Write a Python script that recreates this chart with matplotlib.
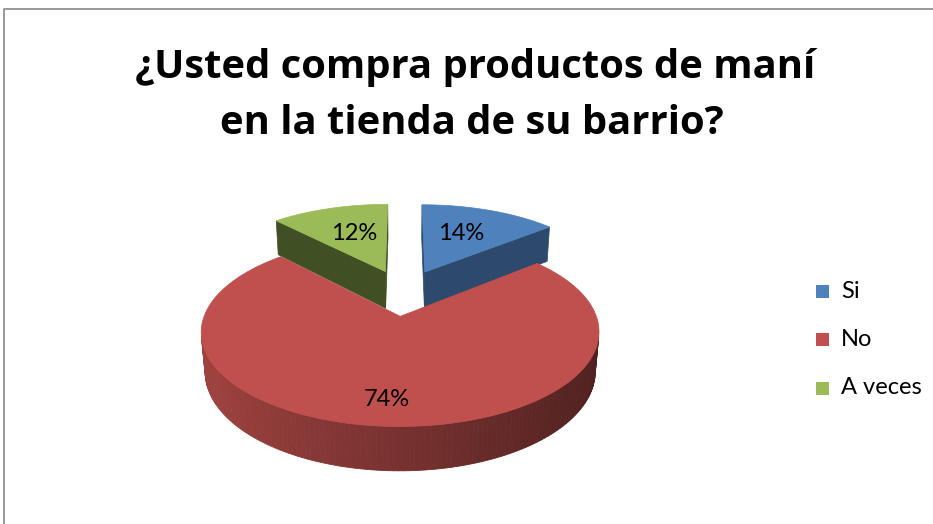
import numpy as np
import matplotlib
matplotlib.use('Agg')
import matplotlib.pyplot as plt
from matplotlib.patches import Polygon, Rectangle

categories = ['Si', 'No', 'A veces']
values = [14, 74, 12]
pct_labels = ['14%', '74%', '12%']
colors = ['#4F81BD', '#C0504D', '#9BBB59']
title_lines = ['¿Usted compra productos de maní', 'en la tienda de su barrio?']

# 3-D view (screen centre x, y, scale, tilt, camera distance, explode, thickness)
X0, Y0, K, ELEV, DIST, EXPL, THICK = 403.62, 292.19, 187.51, 0.4639, 5.608, 0.2758, 0.2302
# label anchor on each slice top: (angle, radial fraction)
label_pos = [(22.5, 0.59), (184.3, 0.79), (339.8, 0.57)]

tot = float(sum(values))
bounds = np.concatenate([[0], np.cumsum(values)]) / tot * 360.0
mids = (bounds[:-1] + bounds[1:]) / 2


def world(i, th, r, y):
    tm = np.radians(mids[i]); t = np.radians(th)
    return np.array([EXPL*np.sin(tm) + r*np.sin(t), y, EXPL*np.cos(tm) + r*np.cos(t)])


def proj(P):
    x, y, z = P
    v = y*np.cos(ELEV) + z*np.sin(ELEV)
    w = -y*np.sin(ELEV) + z*np.cos(ELEV)
    f = DIST/(DIST+w)
    return X0 + K*x*f, Y0 - K*v*f


def shade(c, f):
    rgb = np.array(matplotlib.colors.to_rgb(c))
    return tuple(np.clip(rgb*f, 0, 1))


fig = plt.figure(figsize=(9.33, 5.24), dpi=100)
ax = fig.add_axes([0, 0, 1, 1])
ax.set_xlim(0, 933); ax.set_ylim(524, 0); ax.axis('off')
ax.plot([4, 4, 933], [524, 9, 9], color='#868686', lw=1.2)

cam = np.array([0, DIST*np.sin(ELEV), -DIST*np.cos(ELEV)])
order = sorted(range(3), key=lambda i: -np.cos(np.radians(mids[i])))
for i in order:
    t1, t2 = bounds[i], bounds[i+1]
    ths = np.linspace(t1, t2, 200)
    for t, sgn in ((t1, -1), (t2, 1)):
        tr = np.radians(t)
        nrm = sgn*np.array([np.cos(tr), 0, -np.sin(tr)])
        mid = world(i, t, 0.5, -THICK/2)
        if np.dot(nrm, cam - mid) > 0:
            pts = [proj(world(i, t, 0, 0)), proj(world(i, t, 1, 0)),
                   proj(world(i, t, 1, -THICK)), proj(world(i, t, 0, -THICK))]
            fc = shade(colors[i], 0.57 if i == 0 else 0.42)
            ax.add_patch(Polygon(pts, closed=True, fc=fc, ec=fc, lw=0.5))
    for a, b in zip(ths[:-1], ths[1:]):
        m = (a+b)/2; tr = np.radians(m)
        nrm = np.array([np.sin(tr), 0, np.cos(tr)])
        mid = world(i, m, 1, -THICK/2)
        if np.dot(nrm, cam - mid) > 0:
            pts = [proj(world(i, a, 1, 0)), proj(world(i, b, 1, 0)),
                   proj(world(i, b, 1, -THICK)), proj(world(i, a, 1, -THICK))]
            fc = shade(colors[i], 0.62 - 0.22*np.sin(tr))
            ax.add_patch(Polygon(pts, closed=True, fc=fc, ec=fc, lw=0.6))
    pts = [proj(world(i, 0, 0, 0))] + [proj(world(i, t, 1, 0)) for t in ths]
    ax.add_patch(Polygon(pts, closed=True, fc=colors[i], ec=colors[i], lw=0.5))

for i in range(3):
    th, r = label_pos[i]
    qx, qy = proj(world(i, th, r, 0))
    ax.text(qx, qy, pct_labels[i], ha='center', va='center', fontsize=17,
            family='Lato', color='black')

ax.text(475, 78, title_lines[0], ha='center', va='baseline', fontsize=28.8,
        family='Open Sans', fontweight='bold')
ax.text(472, 134, title_lines[1], ha='center', va='baseline', fontsize=28.8,
        family='Open Sans', fontweight='bold')

for j, (cat, col) in enumerate(zip(categories, colors)):
    yc = 291 + j*48.5
    ax.add_patch(Rectangle((816, yc-6.5), 13, 13, fc=col, ec='none'))
    ax.text(841, yc, cat, ha='left', va='center', fontsize=17, family='Lato')

fig.savefig('out.png', dpi=100)
